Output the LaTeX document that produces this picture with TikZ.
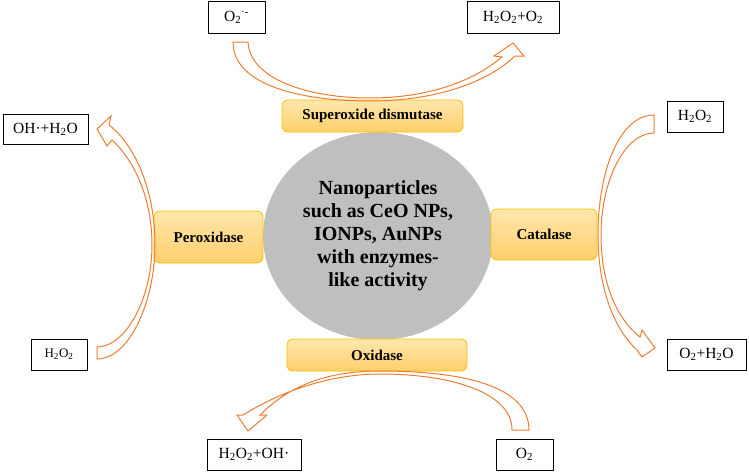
\documentclass[tikz,border=0pt]{standalone}
\usepackage{fontspec}
\setmainfont{Liberation Serif}
\usetikzlibrary{shapes.geometric}
\definecolor{arroworange}{RGB}{237,125,49}
\definecolor{enzymetop}{RGB}{255,231,172}
\definecolor{enzymebottom}{RGB}{255,207,108}
\definecolor{enzymeedge}{RGB}{255,192,0}
\definecolor{coregrey}{RGB}{191,191,191}
\tikzset{
  product/.style={draw=black, line width=0.9pt, fill=white, inner sep=0pt, font=\fontsize{15.5}{17}\selectfont},
  enzyme/.style={draw=enzymeedge, line width=0.8pt, rounded corners=6pt, top color=enzymetop, bottom color=enzymebottom, inner sep=0pt, font=\fontsize{15}{17}\selectfont\bfseries},
  blockarrow/.style={draw=arroworange, line width=1pt, line join=miter}
}

\begin{document}
\begin{tikzpicture}[x=1pt, y=-1pt]
    \useasboundingbox (0,0) rectangle (749,474);

    % Nanoparticle core
    \node[ellipse, fill=coregrey, minimum width=230pt, minimum height=208pt, inner sep=0pt, align=center, font=\fontsize{20}{23}\selectfont\bfseries] (core) at (378,236) {Nanoparticles\\such as CeO NPs,\\IONPs, AuNPs\\with enzymes-\\like activity};

    % Enzyme-like activities
    \node[enzyme, minimum width=181pt, minimum height=32pt] (sod) at (372.5,116) {Superoxide dismutase};
    \node[enzyme, minimum width=109pt, minimum height=52pt] (perox) at (208.5,237) {Peroxidase};
    \node[enzyme, minimum width=106pt, minimum height=51pt] (catal) at (544,234.5) {Catalase};
    \node[enzyme, minimum width=180pt, minimum height=32pt] (oxid) at (377,355) {Oxidase};

    % Substrates and products
    \node[product, minimum width=57pt, minimum height=32pt] (superox) at (236.5,17) {O\textsubscript{2}\textsuperscript{·-}};
    \node[product, minimum width=92pt, minimum height=32pt] (sodout) at (513,17) {H\textsubscript{2}O\textsubscript{2}+O\textsubscript{2}};
    \node[product, minimum width=85pt, minimum height=30pt] (peroxout) at (45.5,129) {OH·+H\textsubscript{2}O};
    \node[product, minimum width=56pt, minimum height=31pt, font=\fontsize{13}{15}\selectfont] (peroxin) at (59,354.5) {H\textsubscript{2}O\textsubscript{2}};
    \node[product, minimum width=56pt, minimum height=31pt] (catalin) at (695,116.5) {H\textsubscript{2}O\textsubscript{2}};
    \node[product, minimum width=79pt, minimum height=31pt] (catalout) at (706.5,354.5) {O\textsubscript{2}+H\textsubscript{2}O};
    \node[product, minimum width=94pt, minimum height=31pt] (oxidout) at (254,454.5) {H\textsubscript{2}O\textsubscript{2}+OH·};
    \node[product, minimum width=57pt, minimum height=31pt] (oxidin) at (524.5,454.5) {O\textsubscript{2}};

    % Superoxide dismutase arrow
    \draw[blockarrow] (233,42) .. controls (233,85) and (300,101) .. (370,101)
        .. controls (440,101) and (490,80) .. (515,56) -- (524,56) -- (513,43) -- (494,56) -- (502,57)
        .. controls (475,80) and (430,98) .. (370,98) .. controls (310,98) and (250,80) .. (248,42) -- cycle;

    % Peroxidase arrow
    \draw[blockarrow] (97,359) .. controls (130,359) and (155,300) .. (155,245)
        .. controls (155,190) and (135,145) .. (109,125) -- (111,116) -- (97,129) -- (107,146) -- (112,140)
        .. controls (132,158) and (152,195) .. (152,245) .. controls (152,300) and (125,347) .. (97,347) -- cycle;

    % Catalase arrow
    \draw[blockarrow] (654,115) .. controls (620,115) and (598,170) .. (598,235)
        .. controls (598,290) and (615,330) .. (637,350) -- (642,357) -- (655,348) -- (642,330) -- (640,337)
        .. controls (618,320) and (601,285) .. (601,235) .. controls (601,180) and (625,133) .. (654,133) -- cycle;

    % Oxidase arrow
    \draw[blockarrow] (529,430) .. controls (529,385) and (460,371) .. (380,371)
        .. controls (320,371) and (285,390) .. (260,415) -- (267,415) -- (248,431) -- (237,415) -- (243,415)
        .. controls (275,395) and (325,374) .. (380,374) .. controls (450,374) and (512,392) .. (512,430) -- cycle;
\end{tikzpicture}
\end{document}
